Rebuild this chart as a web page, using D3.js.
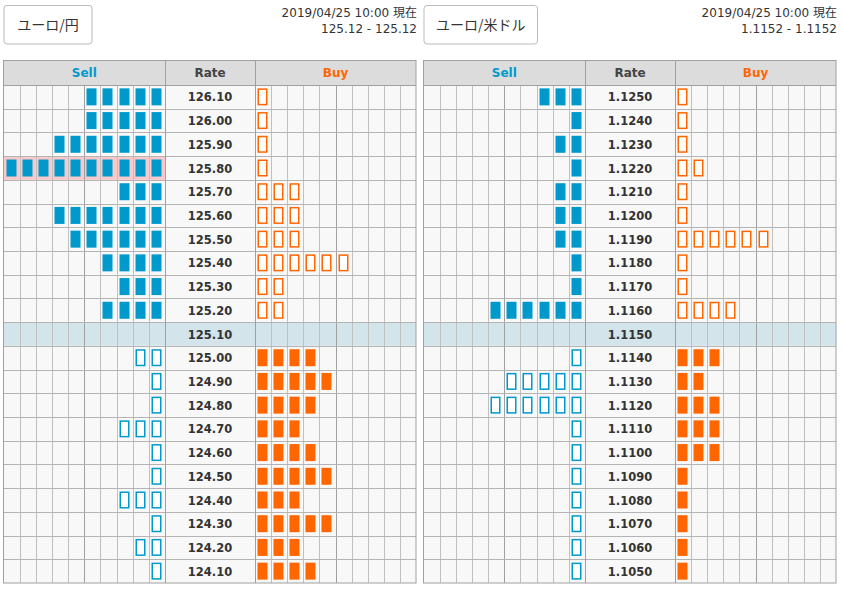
<!DOCTYPE html>
<html><head><meta charset="utf-8">
<script src="https://cdn.jsdelivr.net/npm/d3@7"></script>
<style>
html,body{margin:0;padding:0;background:#fff;}
svg{display:block;font-family:"DejaVu Sans","Noto Sans CJK JP",sans-serif;}
</style></head>
<body><svg id="c" width="843" height="590"></svg>
<script>
// ---- data ----
const jpyTitle = "ユーロ/円";
const jpyTime = "2019/04/25 10:00 現在";
const jpyQuote = "125.12 - 125.12";
const jpyRates = ["126.10","126.00","125.90","125.80","125.70","125.60","125.50","125.40","125.30","125.20","125.10","125.00","124.90","124.80","124.70","124.60","124.50","124.40","124.30","124.20","124.10"];
const jpySell  = [5,5,7,10,3,7,6,4,3,4,0,2,1,1,3,1,1,3,1,2,1];
const jpyBuy   = [1,1,1,1,3,3,3,6,2,2,0,4,5,4,3,4,5,3,5,3,4];
const jpyCurrent = "125.10";

const usdTitle = "ユーロ/米ドル";
const usdTime = "2019/04/25 10:00 現在";
const usdQuote = "1.1152 - 1.1152";
const usdRates = ["1.1250","1.1240","1.1230","1.1220","1.1210","1.1200","1.1190","1.1180","1.1170","1.1160","1.1150","1.1140","1.1130","1.1120","1.1110","1.1100","1.1090","1.1080","1.1070","1.1060","1.1050"];
const usdSell  = [3,1,2,1,2,2,2,1,1,6,0,1,5,6,1,1,1,1,1,1,1];
const usdBuy   = [1,1,1,2,1,1,6,1,1,4,0,3,2,3,3,3,1,1,1,1,1];
const usdCurrent = "1.1150";

const headers = ["Sell","Rate","Buy"];
const slots = d3.range(10);

const SELL = "#0099cc", BUY = "#ff6600";
const svg = d3.select("#c");

function panel(ox, title, btnW, time, quote, rates, sell, buy, current){
  const g = svg.append("g");
  const right = ox + 412.5;
  // button
  g.append("rect").attr("x", ox+0.5).attr("y", 5.5).attr("width", btnW).attr("height", 38.5)
    .attr("rx", 3).attr("fill", "#fff").attr("stroke", "#bbb");
  g.append("text").attr("x", ox+0.5+btnW/2).attr("y", 30).attr("text-anchor","middle")
    .attr("font-size", 14).attr("fill","#333")
    .attr("font-family","'Noto Sans CJK JP',sans-serif").text(title);
  g.append("text").attr("x", right+1).attr("y", 17).attr("text-anchor","end")
    .attr("font-size", 12).attr("fill","#333").text(time);
  g.append("text").attr("x", right+1).attr("y", 33).attr("text-anchor","end")
    .attr("font-size", 12).attr("fill","#333").text(quote);

  const xSell = d3.scaleBand().domain(slots).range([ox, ox+161.5]);
  const xBuy  = d3.scaleBand().domain(slots).range([ox+251.5, right]);
  const rateL = ox+161.5, rateR = ox+251.5;
  const y = d3.scaleBand().domain(rates).range([85, 583]);
  const curIdx = rates.indexOf(current);

  // header
  const hy = 60, hh = 25;
  g.append("rect").attr("x", ox).attr("y", hy).attr("width", 412.5).attr("height", hh).attr("fill","#dcdcdc");
  const hx = [(ox+rateL)/2, (rateL+rateR)/2, (rateR+right)/2];
  const hc = [SELL, "#444", BUY];
  g.selectAll(".hd").data(headers).join("text")
    .attr("x",(d,i)=>hx[i]).attr("y", hy+17).attr("text-anchor","middle")
    .attr("font-size", 12).attr("font-weight","bold").attr("fill",(d,i)=>hc[i]).text(d=>d);

  // row backgrounds
  g.selectAll(".rb").data(rates).join("rect")
    .attr("x", ox).attr("y", d=>y(d)).attr("width", 412.5).attr("height", y.bandwidth())
    .attr("fill", d=> d===current ? "#d3e4ea" : "#f8f8f8");
  // full sell highlight
  g.selectAll(".pk").data(rates.filter((d,i)=>sell[i]>=10)).join("rect")
    .attr("x", ox).attr("y", d=>y(d)).attr("width", 161.5).attr("height", y.bandwidth())
    .attr("fill", "#f9c8c8");

  // grid lines
  const vx = [];
  slots.forEach(i=>{ if(i>0) vx.push({x:xSell(i), major:i===5}); });
  slots.forEach(i=>{ if(i>0) vx.push({x:xBuy(i), major:i===5}); });
  g.selectAll(".vl").data(vx).join("line")
    .attr("x1",d=>Math.round(d.x)+0.5).attr("x2",d=>Math.round(d.x)+0.5)
    .attr("y1", 85).attr("y2", 583).attr("stroke", d=>d.major?"#a0a0a0":"#c0c0c0");
  g.selectAll(".hl").data(rates.slice(1)).join("line")
    .attr("x1", ox).attr("x2", right)
    .attr("y1", d=>Math.round(y(d))+0.5).attr("y2", d=>Math.round(y(d))+0.5)
    .attr("stroke","#b4b4b4");
  // major lines
  [rateL, rateR].forEach(x=>{
    g.append("line").attr("x1",Math.round(x)+0.5).attr("x2",Math.round(x)+0.5)
      .attr("y1", hy).attr("y2", 583).attr("stroke","#a0a0a0");
  });
  g.append("line").attr("x1", ox).attr("x2", right).attr("y1", 85.5).attr("y2", 85.5).attr("stroke","#a0a0a0");
  g.append("rect").attr("x", ox).attr("y", hy+0.5).attr("width", 412.5).attr("height", 583-hy-0.5)
    .attr("fill","none").attr("stroke","#a0a0a0");

  // rate labels
  g.selectAll(".rl").data(rates).join("text")
    .attr("x", (rateL+rateR)/2).attr("y", d=>y(d)+y.bandwidth()/2+4.5)
    .attr("text-anchor","middle").attr("font-size", 11.5).attr("font-weight","bold")
    .attr("fill","#333").text(d=>d);

  // boxes
  const bw = 10, bh = 17;
  const boxes = [];
  rates.forEach((r,i)=>{
    const above = i < curIdx;
    for(let k=0;k<sell[i] && k<10;k++) boxes.push({r, x:xSell(9-k), c:SELL, filled:above});
    for(let k=0;k<buy[i] && k<10;k++) boxes.push({r, x:xBuy(k), c:BUY, filled:!above});
  });
  g.selectAll(".bx").data(boxes).join("rect")
    .attr("x", d=> Math.round(d.x)+2.5 + (d.filled?0:0.75))
    .attr("y", d=> y(d.r)+ (y.bandwidth()-bh)/2 + (d.filled?0:0.75))
    .attr("width", d=> d.filled? bw : bw-1.5)
    .attr("height", d=> d.filled? bh : bh-1.5)
    .attr("fill", d=> d.filled ? d.c : "#fff")
    .attr("stroke", d=> d.filled ? "none" : d.c)
    .attr("stroke-width", 1.5);
}

panel(3.5, jpyTitle, 88, jpyTime, jpyQuote, jpyRates, jpySell, jpyBuy, jpyCurrent);
panel(423.5, usdTitle, 113.5, usdTime, usdQuote, usdRates, usdSell, usdBuy, usdCurrent);
</script></body></html>
